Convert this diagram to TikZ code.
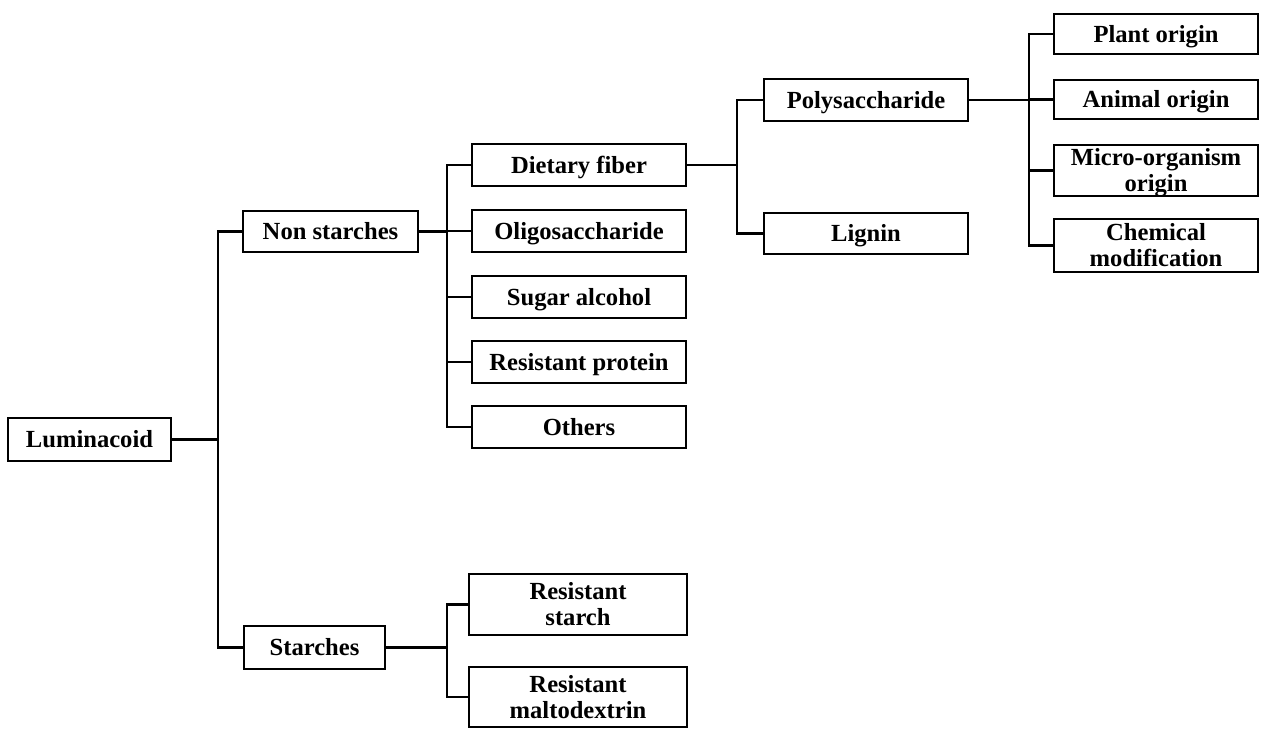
\documentclass[tikz,border=0pt]{standalone}
\usepackage{fontspec}
\setmainfont{Liberation Serif}
\newcommand\bxn[7][]{\node[bx,#1,minimum width={(#5-#3-2)*0.02cm},minimum height={(#6-#4-2)*0.02cm}] (#2) at ({(#3+#5)/2},{(#4+#6)/2}) {#7};}
\begin{document}
\begin{tikzpicture}[x=0.02cm,y=-0.02cm,line width=1.5pt,
  bx/.style={draw,rectangle,inner sep=0pt,align=center,font=\fontsize{14}{15}\selectfont\bfseries,text height=9.3pt,text depth=0pt},
  two/.style={text height=24.3pt,text depth=0pt}]
\useasboundingbox (0,0) rectangle (1266,729);
\bxn{lum}{7}{417}{172}{462}{Luminacoid}
\bxn{non}{242}{210}{419}{253}{Non starches}
\bxn{sta}{243}{625}{386}{670}{Starches}
\bxn{df}{471}{143}{687}{187}{Dietary fiber}
\bxn{oli}{471}{209}{687}{253}{Oligosaccharide}
\bxn{sug}{471}{275}{687}{319}{Sugar alcohol}
\bxn{rp}{471}{340}{687}{384}{Resistant protein}
\bxn{oth}{471}{405}{687}{449}{Others}
\bxn[two]{rs}{468}{573}{688}{636}{Resistant\\starch}
\bxn[two]{rm}{468}{666}{688}{728}{Resistant\\maltodextrin}
\bxn{poly}{763}{78}{969}{122}{Polysaccharide}
\bxn{lig}{763}{212}{969}{255}{Lignin}
\bxn{pl}{1053}{13}{1259}{55}{Plant origin}
\bxn{an}{1053}{79}{1259}{120}{Animal origin}
\bxn[two]{mi}{1053}{144}{1259}{197}{Micro-organism\\origin}
\bxn[two]{ch}{1053}{218}{1259}{273}{Chemical\\modification}
\coordinate (j1) at (218,0);
\coordinate (j2) at (447,0);
\coordinate (j3) at (737,0);
\coordinate (j4) at (1029,0);
\coordinate (j5) at (447,0);
% Luminacoid
\draw (lum.east) -- (lum.east -| j1);
\draw (non.west) -| (j1 |- sta.west) -- (sta.west);
% Non starches
\draw (non.east) -- (non.east -| j2);
\draw (df.west) -| (j2 |- oth.west) -- (oth.west);
\draw (oli.west) -- (oli.west -| j2);
\draw (sug.west) -- (sug.west -| j2);
\draw (rp.west) -- (rp.west -| j2);
% Dietary fiber
\draw (df.east) -- (df.east -| j3);
\draw (poly.west) -| (j3 |- lig.west) -- (lig.west);
% Polysaccharide
\draw (poly.east) -- (poly.east -| j4);
\draw (pl.west) -| (j4 |- ch.west) -- (ch.west);
\draw (an.west) -- (an.west -| j4);
\draw (mi.west) -- (mi.west -| j4);
% Starches
\draw (sta.east) -- (sta.east -| j5);
\draw (rs.west) -| (j5 |- rm.west) -- (rm.west);
\end{tikzpicture}
\end{document}
